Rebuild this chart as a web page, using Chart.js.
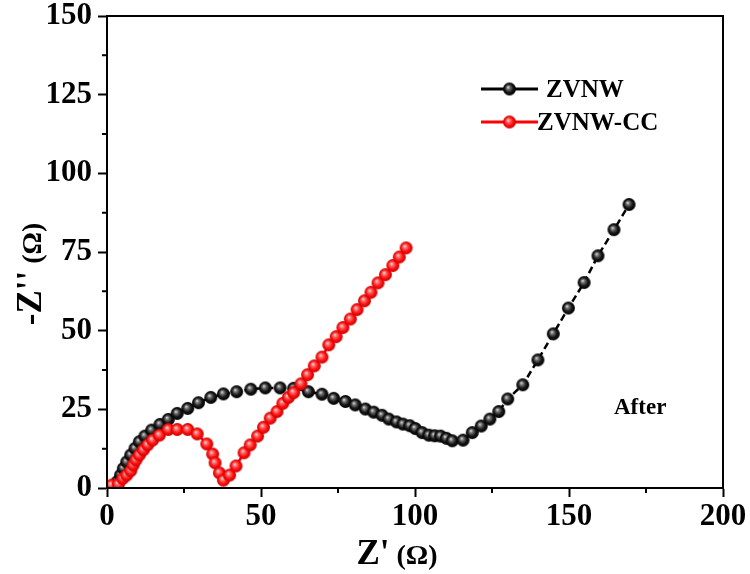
<!DOCTYPE html>
<html lang="en">
<head>
  <meta charset="UTF-8">
  <title>Nyquist - After</title>
  <script src="https://cdn.jsdelivr.net/npm/chart.js"></script>
  <style>
    body { margin: 0; background: #fff; }
    #wrap { width: 750px; height: 574px; position: relative; }
  </style>
</head>
<body>
  <div id="wrap"><canvas id="nyquist"></canvas></div>
  <script>
    // ZVNW (black)
    var zvnwX = [3.3, 4.4, 5.3, 6.4, 7.7, 9.1, 10.5, 12.3, 14.5, 17.2, 19.9, 22.8, 26.2, 29.7, 33.7, 37.8, 42.1, 46.7, 51.4, 56.2, 60.6, 65.4, 69.8, 73.6, 77.4, 80.6, 83.9, 86.6, 89.3, 91.5, 94.0, 96.1, 98.3, 100.1, 102.3, 104.5, 106.4, 108.3, 110.2, 112.1, 115.6, 118.6, 121.5, 124.3, 127.2, 130.1, 135.0, 139.9, 144.9, 149.8, 154.9, 159.4, 164.6, 169.5];
    var zvnwY = [2.0, 4.1, 6.2, 8.3, 10.5, 12.6, 14.7, 16.5, 18.4, 20.2, 21.8, 23.7, 25.3, 27.1, 28.8, 29.9, 30.6, 31.4, 31.8, 31.8, 31.7, 30.6, 29.8, 28.5, 27.5, 26.4, 25.1, 24.1, 23.1, 21.9, 21.0, 20.3, 19.8, 18.9, 17.6, 16.8, 16.6, 16.5, 15.8, 15.0, 15.2, 17.6, 19.7, 21.9, 24.3, 28.3, 32.8, 40.7, 49.0, 57.2, 65.3, 73.8, 82.1, 90.1];

    // ZVNW-CC (red)
    var ccX = [1.5, 3.7, 5.1, 6.4, 7.7, 8.5, 9.4, 10.5, 11.8, 13.2, 14.8, 17.0, 19.9, 22.8, 26.2, 29.3, 32.4, 34.3, 35.1, 36.5, 37.8, 39.8, 41.9, 44.5, 46.5, 48.9, 50.8, 53.0, 55.2, 57.1, 58.9, 60.6, 63.0, 65.1, 67.3, 69.8, 72.0, 74.4, 76.6, 79.0, 81.2, 83.6, 85.7, 88.0, 90.4, 92.8, 94.9, 97.1];
    var ccY = [0.9, 1.2, 3.0, 4.1, 5.5, 7.3, 8.9, 10.5, 12.1, 13.7, 15.2, 16.8, 18.6, 18.6, 18.6, 17.2, 14.0, 10.8, 8.0, 4.8, 2.5, 4.1, 7.0, 11.2, 13.7, 16.5, 19.3, 22.2, 24.3, 26.9, 28.8, 30.3, 33.1, 36.0, 38.8, 41.6, 45.5, 48.1, 51.0, 53.7, 56.7, 59.5, 62.2, 65.2, 67.8, 70.7, 73.4, 76.3];

    var xTicks = [0, 50, 100, 150, 200];
    var yTicks = [0, 25, 50, 75, 100, 125, 150];
    var seriesNames = ['ZVNW', 'ZVNW-CC'];

    var serif = '"Liberation Serif", "Times New Roman", serif';

    function sphere(r, hi, mid, base, edge) {
      var c = document.createElement('canvas');
      var s = Math.ceil(r * 2 + 2);
      c.width = s; c.height = s;
      var g = c.getContext('2d');
      var grad = g.createRadialGradient(s / 2 - r * 0.25, s / 2 - r * 0.3, 0, s / 2, s / 2, r);
      grad.addColorStop(0, hi);
      grad.addColorStop(0.3, mid);
      grad.addColorStop(0.65, base);
      grad.addColorStop(1, edge);
      g.fillStyle = grad;
      g.beginPath();
      g.arc(s / 2, s / 2, r, 0, Math.PI * 2);
      g.fill();
      return c;
    }

    var blackBall = sphere(6.5, '#e8e8e8', '#6a6a6a', '#151515', '#000');
    var redBall = sphere(6.5, '#ffe6e6', '#ff6a6a', '#ff1010', '#c80000');

    function toPts(xs, ys) {
      return xs.map(function (x, i) { return { x: x, y: ys[i] }; });
    }

    // draws a title made of a big part and a smaller "(Ω)" part, centred on 0
    function mixedTitle(ctx, big, small, bigSize, smallSize) {
      ctx.font = 'bold ' + bigSize + 'px ' + serif;
      var w1 = ctx.measureText(big).width;
      ctx.font = 'bold ' + smallSize + 'px ' + serif;
      var w2 = ctx.measureText(small).width;
      var s0 = -(w1 + w2) / 2;
      ctx.font = 'bold ' + bigSize + 'px ' + serif;
      ctx.fillText(big, s0, 0);
      ctx.font = 'bold ' + smallSize + 'px ' + serif;
      ctx.fillText(small, s0 + w1, 0);
    }

    var decorPlugin = {
      id: 'decor',
      afterDraw: function (chart) {
        var ctx = chart.ctx;
        var a = chart.chartArea;
        var xs = chart.scales.x, ys = chart.scales.y;
        ctx.save();
        ctx.strokeStyle = '#000';
        ctx.lineWidth = 2;
        ctx.strokeRect(a.left, a.top, a.right - a.left, a.bottom - a.top);

        // minor ticks
        ctx.beginPath();
        for (var i = 0; i < xTicks.length - 1; i++) {
          var px = xs.getPixelForValue((xTicks[i] + xTicks[i + 1]) / 2);
          ctx.moveTo(px, a.bottom);
          ctx.lineTo(px, a.bottom + 5);
        }
        for (var j = 0; j < yTicks.length - 1; j++) {
          var py = ys.getPixelForValue((yTicks[j] + yTicks[j + 1]) / 2);
          ctx.moveTo(a.left, py);
          ctx.lineTo(a.left - 5, py);
        }
        ctx.stroke();

        // axis titles
        ctx.fillStyle = '#000';
        ctx.textBaseline = 'alphabetic';
        ctx.textAlign = 'left';
        ctx.save();
        ctx.translate(397, 564);
        mixedTitle(ctx, "Z'", ' (\u03A9)', 35, 28);
        ctx.restore();

        ctx.save();
        ctx.translate(41, 274);
        ctx.rotate(-Math.PI / 2);
        mixedTitle(ctx, "-Z''", ' (\u03A9)', 35, 28);
        ctx.restore();

        // legend
        var rows = [
          { y: 89, color: '#000', ball: blackBall, text: seriesNames[0], tx: 546 },
          { y: 122, color: '#ff0000', ball: redBall, text: seriesNames[1], tx: 537 }
        ];
        rows.forEach(function (r) {
          ctx.strokeStyle = r.color;
          ctx.lineWidth = 3;
          ctx.beginPath();
          ctx.moveTo(481, r.y);
          ctx.lineTo(538, r.y);
          ctx.stroke();
          ctx.drawImage(r.ball, 509.5 - r.ball.width / 2, r.y - r.ball.height / 2);
          ctx.fillStyle = '#000';
          ctx.font = 'bold 25px ' + serif;
          ctx.textBaseline = 'middle';
          ctx.fillText(r.text, r.tx, r.y + 2);
        });

        ctx.textBaseline = 'alphabetic';
        ctx.font = 'bold 23px ' + serif;
        ctx.fillText('After', 614, 414);
        ctx.restore();
      }
    };

    var tickFont = { family: serif, size: 31, weight: 'bold', lineHeight: 0.8 };

    new Chart(document.getElementById('nyquist'), {
      type: 'scatter',
      data: {
        datasets: [{
          label: seriesNames[1],
          data: toPts(ccX, ccY),
          showLine: true,
          borderColor: '#ff0000',
          borderWidth: 2.5,
          pointStyle: redBall,
          pointRadius: 6.5,
          order: 1
        }, {
          label: seriesNames[0],
          data: toPts(zvnwX, zvnwY),
          showLine: true,
          borderColor: '#000',
          borderWidth: 2.5,
          borderDash: [7, 4],
          pointStyle: blackBall,
          pointRadius: 6.5,
          order: 2
        }]
      },
      options: {
        responsive: true,
        maintainAspectRatio: false,
        animation: false,
        layout: { padding: { top: 16, right: 27, left: 0, bottom: 0 } },
        plugins: { legend: { display: false }, tooltip: { enabled: false } },
        scales: {
          x: {
            type: 'linear',
            min: xTicks[0],
            max: xTicks[xTicks.length - 1],
            afterBuildTicks: function (s) { s.ticks = xTicks.map(function (v) { return { value: v }; }); },
            afterFit: function (s) { s.height = 86; s.paddingLeft = 0; s.paddingRight = 0; },
            ticks: { font: tickFont, color: '#000', padding: 8, maxRotation: 0 },
            grid: { drawOnChartArea: false, drawTicks: true, tickLength: 9, tickWidth: 2, tickColor: '#000' },
            border: { display: true, color: '#000', width: 2 }
          },
          y: {
            min: yTicks[0],
            max: yTicks[yTicks.length - 1],
            afterBuildTicks: function (s) { s.ticks = yTicks.map(function (v) { return { value: v }; }); },
            afterFit: function (s) { s.width = 107; s.paddingTop = 0; s.paddingBottom = 0; },
            ticks: { font: tickFont, color: '#000', padding: 6 },
            grid: { drawOnChartArea: false, drawTicks: true, tickLength: 9, tickWidth: 2, tickColor: '#000' },
            border: { display: true, color: '#000', width: 2 }
          }
        }
      },
      plugins: [decorPlugin]
    });
  </script>
</body>
</html>
